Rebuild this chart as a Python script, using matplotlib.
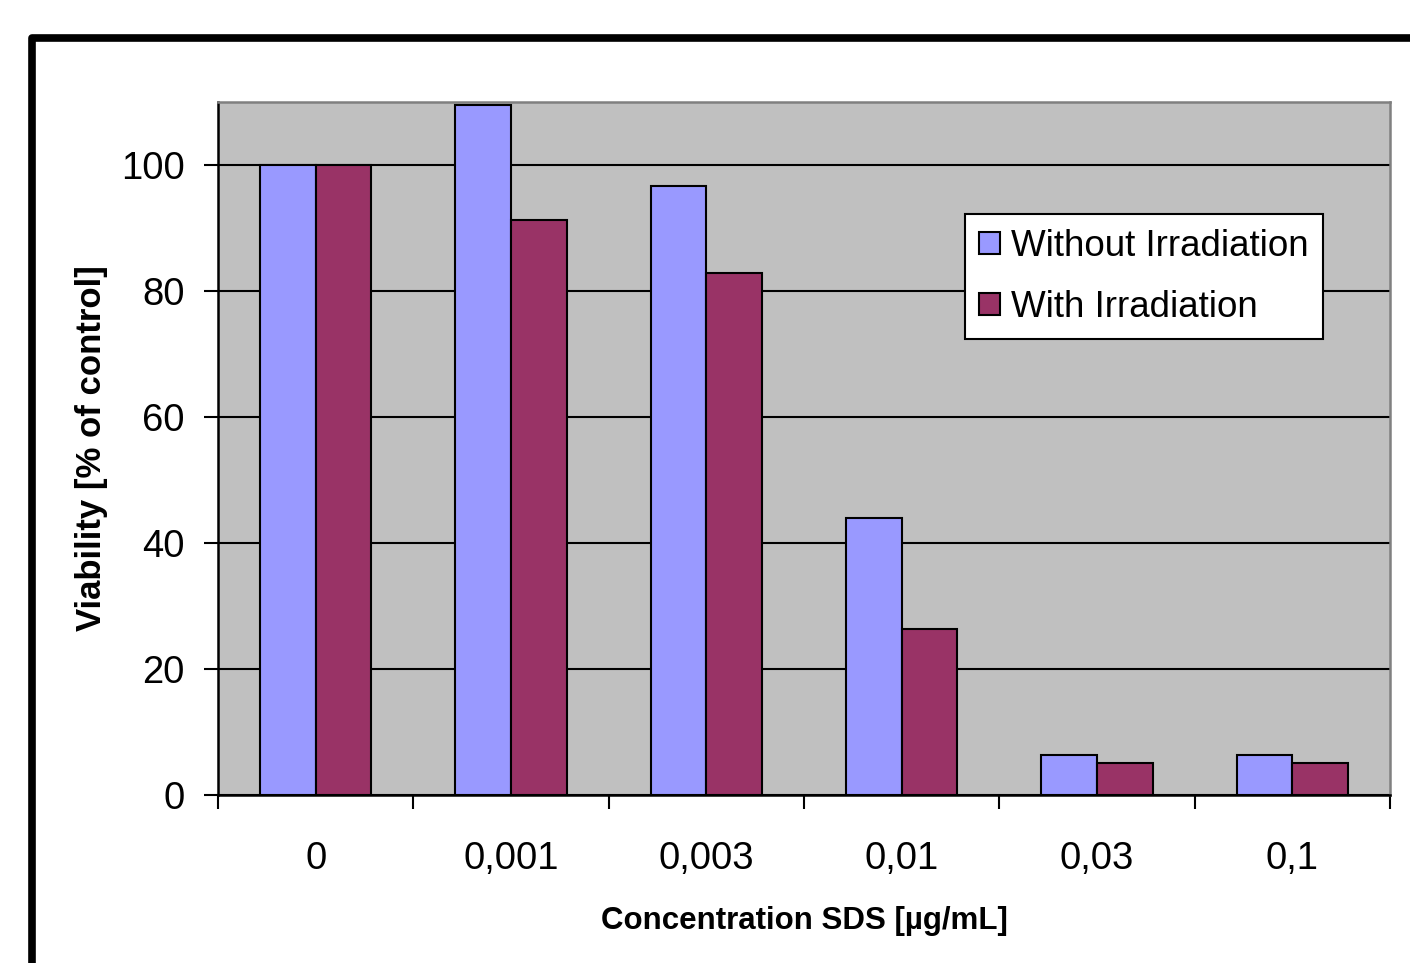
import numpy as np
import matplotlib
matplotlib.use("Agg")
import matplotlib.pyplot as plt
from matplotlib.lines import Line2D

plt.rcParams["font.family"] = ["Liberation Sans", "DejaVu Sans"]

# values
categories = ["0", "0,001", "0,003", "0,01", "0,03", "0,1"]
without_irr = [100.0, 109.5, 96.6, 43.9, 6.3, 6.3]
with_irr = [100.0, 91.2, 82.8, 26.3, 5.0, 5.0]
y_ticks = [0, 20, 40, 60, 80, 100]

fig = plt.figure(figsize=(14.1, 9.63), dpi=100)
ax = fig.add_axes([0.1546, 0.1745, 0.8312, 0.7196])

x = np.arange(len(categories))
w = 1.0 / 3.5
ax.set_facecolor("#C0C0C0")
ax.bar(x - w / 2, without_irr, w, color="#9999FF", edgecolor="black",
       linewidth=1.5, label="Without Irradiation", zorder=3)
ax.bar(x + w / 2, with_irr, w, color="#993366", edgecolor="black",
       linewidth=1.5, label="With Irradiation", zorder=3)

ax.set_xlim(-0.5, len(categories) - 0.5)
ax.set_ylim(0, 110)
ax.set_yticks(y_ticks)
ax.yaxis.grid(True, color="black", linewidth=1.5, zorder=1)
ax.set_axisbelow(True)

# category labels at centres, tick marks between groups
ax.set_xticks(x)
ax.set_xticklabels(categories)
ax.set_xticks(np.arange(len(categories) + 1) - 0.5, minor=True)
ax.tick_params(axis="x", which="major", length=0, pad=33, labelsize=27.5)
ax.tick_params(axis="x", which="minor", length=10, width=1.5, direction="out")
ax.tick_params(axis="y", length=10, width=1.5, direction="out", pad=14,
               labelsize=27.5)

ax.spines["left"].set_linewidth(1.8)
ax.spines["bottom"].set_linewidth(1.8)
ax.spines["top"].set_color("#808080")
ax.spines["right"].set_color("#808080")
ax.spines["top"].set_linewidth(1.8)
ax.spines["right"].set_linewidth(1.8)

ax.set_xlabel("Concentration SDS [µg/mL]", fontsize=22.5, fontweight="bold",
              va="center")
ax.xaxis.set_label_coords(0.5, -0.182)
ax.set_ylabel("Viability [% of control]", fontsize=25, fontweight="bold",
              va="center")
ax.yaxis.set_label_coords(-0.108, 0.5)

leg = ax.legend(loc="upper left", bbox_to_anchor=(0.637, 0.838),
                borderaxespad=0, fontsize=26.5, fancybox=False, framealpha=1,
                edgecolor="black", handlelength=0.55, handleheight=0.55,
                handletextpad=0.3, labelspacing=0.7, borderpad=0.4)
leg.get_frame().set_linewidth(1.5)

# outer frame, cut off at right and bottom
x0, y0 = 31.5 / 1410, 1 - 38 / 963
fig.add_artist(Line2D([x0, x0, 1.02], [-0.02, y0, y0], transform=fig.transFigure,
                      color="black", linewidth=5.5, solid_joinstyle="round"))

fig.savefig("out.png", dpi=100)
